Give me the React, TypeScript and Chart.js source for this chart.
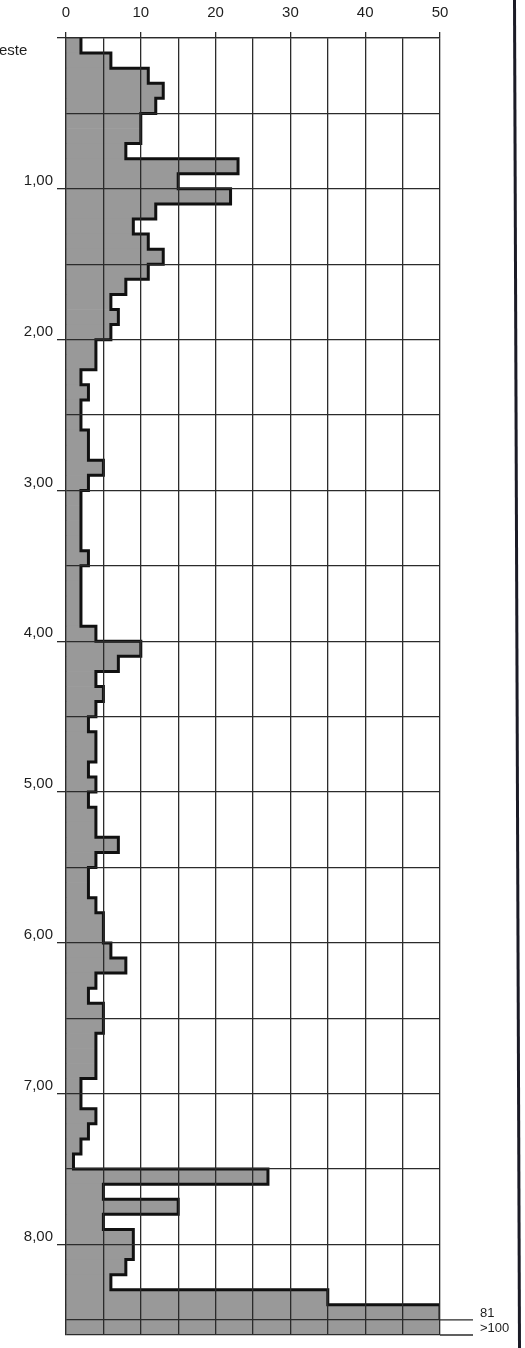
import React, { useEffect, useRef } from 'react';
import { Chart, registerables } from 'chart.js';

Chart.register(...registerables);

// Blows per 10 cm, from depth 0,00 m down to 8,60 m (one value per row)
const blows = [
  2, 6, 11, 13, 12, 10, 10, 8, 23, 15,
  22, 12, 9, 11, 13, 11, 8, 6, 7, 6,
  4, 4, 2, 3, 2, 2, 3, 3, 5, 3,
  2, 2, 2, 2, 3, 2, 2, 2, 2, 4,
  10, 7, 4, 5, 4, 3, 4, 4, 3, 4,
  3, 4, 4, 7, 4, 3, 3, 4, 5, 5,
  6, 8, 4, 3, 5, 5, 4, 4, 4, 2,
  2, 4, 3, 2, 1, 27, 5, 15, 5, 9,
  9, 8, 6, 35, 81, 101,
];
const rowHeight = 0.1;

const xGridValues = [0, 5, 10, 15, 20, 25, 30, 35, 40, 45, 50];
const xTickLabels = ['0', '', '10', '', '20', '', '30', '', '40', '', '50'];

const yGridValues = [0, 0.5, 1, 1.5, 2, 2.5, 3, 3.5, 4, 4.5, 5, 5.5, 6, 6.5, 7, 7.5, 8, 8.5, 8.6];
const yTickLabels = ['', '', '1,00', '', '2,00', '', '3,00', '', '4,00', '', '5,00', '', '6,00', '', '7,00', '', '8,00', '', ''];

const overflowDepths = [8.5, 8.6];
const overflowText = ['81', '>100'];
const topLabel = 'este';

const X_MAX = 50;
const FONT = "'Liberation Sans', Arial, Helvetica, sans-serif";
const INK = '#1e1e1e';
const GRID = '#2b2b2b';

export default function App() {
  const ref = useRef<HTMLCanvasElement>(null);

  useEffect(() => {
    if (!ref.current) return;
    Chart.defaults.font.family = FONT;

    const barData = blows.map((v, i) => ({
      x: Math.min(v, X_MAX),
      y: Math.round(i) / 10 + rowHeight / 2,
    }));
    const outline: { x: number; y: number }[] = [];
    for (let i = 0; i < blows.length - 1; i++) {
      const top = Math.round(i) / 10;
      const v = Math.min(blows[i], X_MAX);
      outline.push({ x: v, y: top });
      outline.push({ x: v, y: top + rowHeight });
    }

    const decor = {
      id: 'decor',
      afterDraw(chart: any) {
        const { ctx, chartArea, scales } = chart;
        ctx.save();
        ctx.strokeStyle = GRID;
        ctx.lineWidth = 1.3;
        overflowDepths.forEach((d, k) => {
          const y = scales.y.getPixelForValue(d);
          ctx.beginPath();
          ctx.moveTo(chartArea.right, y);
          ctx.lineTo(473, y);
          ctx.stroke();
          ctx.fillStyle = INK;
          ctx.font = `13px ${FONT}`;
          ctx.textAlign = 'left';
          ctx.textBaseline = 'alphabetic';
          ctx.fillText(overflowText[k], 480, y - 3);
        });
        ctx.fillStyle = INK;
        ctx.font = `15px ${FONT}`;
        ctx.textAlign = 'left';
        ctx.textBaseline = 'alphabetic';
        ctx.fillText(topLabel, -1, 55);
        // page frame line on the right
        ctx.fillStyle = '#1b1b26';
        ctx.beginPath();
        ctx.moveTo(513, 0);
        ctx.lineTo(516, 0);
        ctx.lineTo(521, 1348);
        ctx.lineTo(518, 1348);
        ctx.closePath();
        ctx.fill();
        ctx.restore();
      },
    };

    const chart = new Chart(ref.current, {
      type: 'bar',
      data: {
        datasets: [
          {
            type: 'line',
            data: outline,
            borderColor: '#111111',
            borderWidth: 3,
            pointRadius: 0,
            fill: false,
            tension: 0,
            order: 0,
            indexAxis: 'y',
          } as any,
          {
            type: 'bar',
            data: barData,
            backgroundColor: '#999999',
            borderWidth: 0,
            barPercentage: 1,
            categoryPercentage: 1,
            grouped: false,
            order: 1,
          } as any,
        ],
      },
      options: {
        indexAxis: 'y',
        responsive: false,
        maintainAspectRatio: false,
        devicePixelRatio: 1,
        animation: false,
        layout: { padding: { top: 0, left: 0, right: 85, bottom: 12 } },
        plugins: { legend: { display: false }, tooltip: { enabled: false } },
        scales: {
          x: {
            type: 'linear',
            position: 'top',
            min: 0,
            max: X_MAX,
            offset: false,
            afterBuildTicks: (a: any) => {
              a.ticks = xGridValues.map((v) => ({ value: v }));
            },
            afterFit: (a: any) => {
              a.height = 38;
            },
            ticks: {
              callback: (_v: any, i: number) => xTickLabels[i],
              autoSkip: false,
              maxRotation: 0,
              padding: 10,
              color: INK,
              font: { size: 15, family: FONT },
            },
            grid: {
              z: 1,
              offset: false,
              color: GRID,
              lineWidth: 1.3,
              tickLength: 6,
              tickColor: (c: any) => (c.tick && c.tick.value % 10 === 0 ? GRID : 'rgba(0,0,0,0)'),
            },
            border: { color: GRID, width: 1.3, z: 1 },
          },
          y: {
            type: 'linear',
            reverse: true,
            min: 0,
            max: 8.6,
            offset: false,
            afterBuildTicks: (a: any) => {
              a.ticks = yGridValues.map((v) => ({ value: v }));
            },
            afterFit: (a: any) => {
              a.width = 66;
            },
            ticks: {
              callback: (_v: any, i: number) => yTickLabels[i],
              autoSkip: false,
              padding: 4,
              labelOffset: -8,
              color: INK,
              font: { size: 15, family: FONT },
            },
            grid: {
              z: 1,
              offset: false,
              color: GRID,
              lineWidth: 1.3,
              tickLength: 9,
              tickColor: (c: any) =>
                c.tick && Number.isInteger(c.tick.value) && c.tick.value <= 8 ? GRID : 'rgba(0,0,0,0)',
            },
            border: { color: GRID, width: 1.3, z: 1 },
          },
        },
      } as any,
      plugins: [decor],
    });

    return () => chart.destroy();
  }, []);

  return (
    <div style={{ position: 'absolute', left: 0, top: 0, width: 525, height: 1348, background: '#fff' }}>
      <canvas ref={ref} width={525} height={1348} style={{ display: 'block', width: 525, height: 1348 }} />
    </div>
  );
}
